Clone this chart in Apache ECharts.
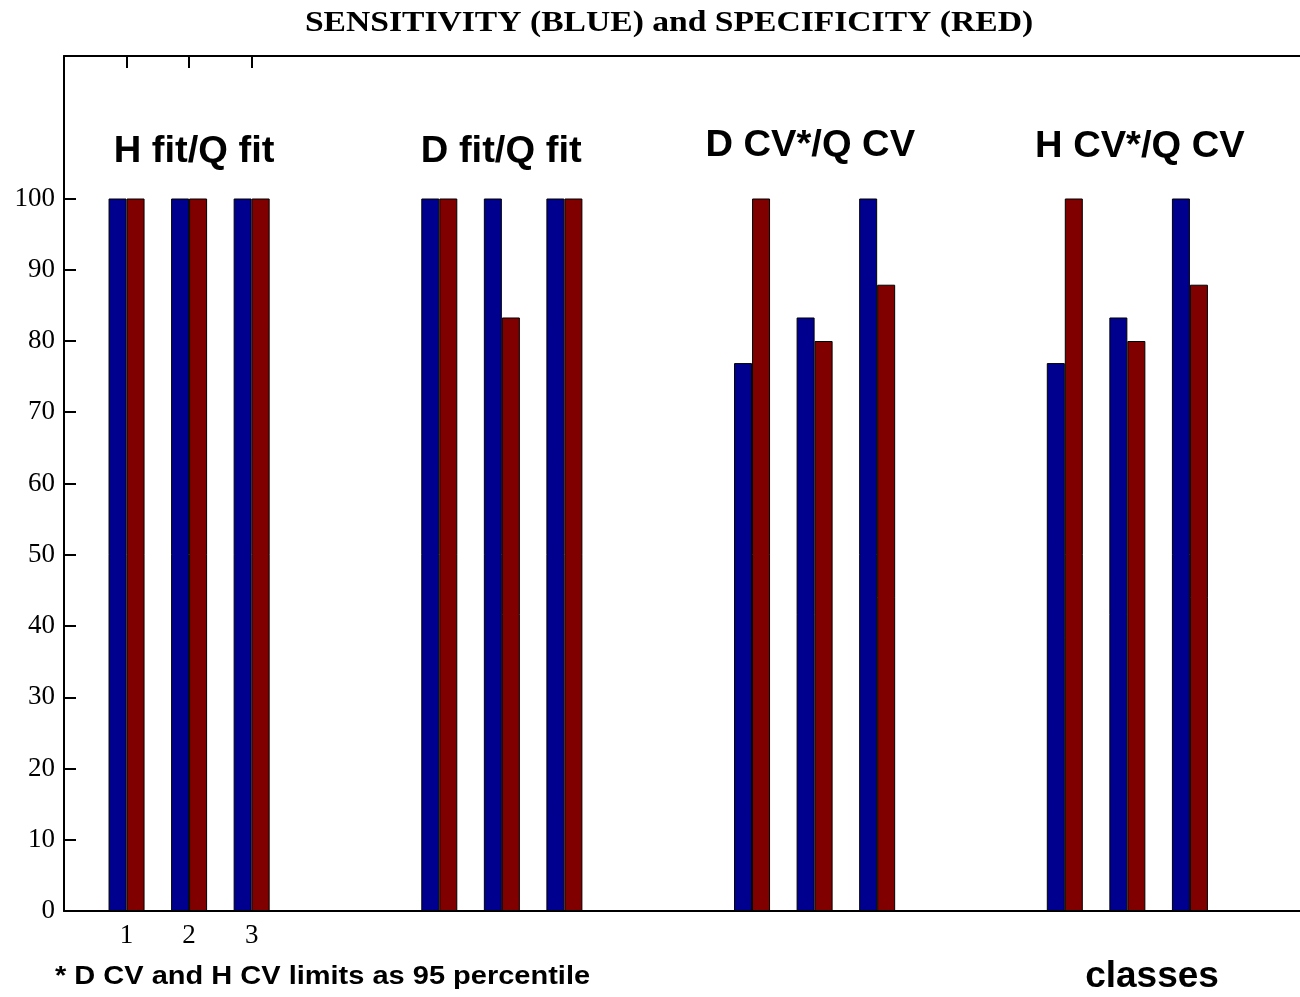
<!DOCTYPE html>
<html>
<head>
<meta charset="utf-8">
<script src="https://cdn.jsdelivr.net/npm/echarts@6/dist/echarts.min.js"></script>
<style>html,body{margin:0;padding:0;background:#fff}#c{width:1300px;height:997px}</style>
</head>
<body>
<div id="c"></div>
<script>
// Data
const classPositions = [1, 2, 3, 6, 7, 8, 11, 12, 13, 16, 17, 18];
const sensitivity = [100, 100, 100, 100, 100, 100, 76.9, 83.3, 100, 76.9, 83.3, 100];
const specificity = [100, 100, 100, 100, 83.3, 100, 100, 80, 87.9, 100, 80, 87.9];
const groupNames = ['H fit/Q fit', 'D fit/Q fit', 'D CV*/Q CV', 'H CV*/Q CV'];
const groupLabelX = [2.08, 6.99, 11.93, 17.2];
const groupLabelY = [106.6, 106.6, 107.4, 107.2];
const yTicks = [0, 10, 20, 30, 40, 50, 60, 70, 80, 90, 100];
const xTicks = [1, 2, 3];
const titleText = 'SENSITIVITY (BLUE) and SPECIFICITY (RED)';
const footnoteText = '* D CV and H CV limits as 95 percentile';
const xAxisName = 'classes';

const chart = echarts.init(document.getElementById('c'), null, {renderer: 'canvas'});
const serif = '"Liberation Serif", "Times New Roman", serif';
const sans = '"Liberation Sans", Arial, sans-serif';

const option = {
  animation: false,
  backgroundColor: '#ffffff',
  grid: {left: 64, top: 56, bottom: 86, right: 0, containLabel: false},
  xAxis: [
    {
      type: 'value', min: 0, max: 19.76, position: 'bottom',
      axisLine: {show: true, onZero: false, lineStyle: {color: '#000', width: 2}},
      axisTick: {show: false},
      axisLabel: {show: true, customValues: xTicks, margin: 11, color: '#000', fontFamily: serif, fontSize: 27},
      splitLine: {show: false}
    },
    {
      type: 'value', min: 0, max: 19.76, position: 'top',
      axisLine: {show: true, onZero: false, lineStyle: {color: '#000', width: 2}},
      axisTick: {show: true, inside: true, length: 12, customValues: xTicks, lineStyle: {color: '#000', width: 2}},
      axisLabel: {show: false},
      splitLine: {show: false}
    }
  ],
  yAxis: {
    type: 'value', min: 0, max: 120, interval: 10,
    axisLine: {show: true, lineStyle: {color: '#000', width: 2}},
    axisTick: {show: true, inside: true, length: 12, customValues: yTicks, lineStyle: {color: '#000', width: 2}},
    axisLabel: {show: true, customValues: yTicks, margin: 9, color: '#000', fontFamily: serif, fontSize: 27},
    splitLine: {show: false}
  },
  series: [
    {
      name: 'Sensitivity', type: 'bar', xAxisIndex: 0, barWidth: 18, barGap: '0%',
      itemStyle: {color: '#00008f', borderColor: '#000', borderWidth: 1},
      data: classPositions.map((x, i) => [x, sensitivity[i]])
    },
    {
      name: 'Specificity', type: 'bar', xAxisIndex: 0, barWidth: 18, barGap: '0%',
      itemStyle: {color: '#800000', borderColor: '#000', borderWidth: 1},
      data: classPositions.map((x, i) => [x, specificity[i]])
    }
  ]
};
chart.setOption(option);

// Group labels placed through the chart's own scales
const groupGraphics = groupNames.map((n, i) => {
  const p = chart.convertToPixel({xAxisIndex: 0, yAxisIndex: 0}, [groupLabelX[i], groupLabelY[i]]);
  return {type: 'text', x: p[0], y: p[1], scaleX: 1.03, z: 100,
    style: {text: n, align: 'center', verticalAlign: 'middle', font: 'bold 37px ' + sans, fill: '#000'}};
});

chart.setOption({
  graphic: [
    {type: 'text', x: 669, y: 23, scaleX: 1.12,
      style: {text: titleText, align: 'center', verticalAlign: 'middle', font: 'bold 30px ' + serif, fill: '#000'}},
    {type: 'text', x: 55, y: 977, scaleX: 1.16,
      style: {text: footnoteText, align: 'left', verticalAlign: 'middle', font: 'bold 25px ' + sans, fill: '#000'}},
    {type: 'text', x: 1152, y: 977,
      style: {text: xAxisName, align: 'center', verticalAlign: 'middle', font: 'bold 37px ' + sans, fill: '#000'}}
  ].concat(groupGraphics)
});
</script>
</body>
</html>
